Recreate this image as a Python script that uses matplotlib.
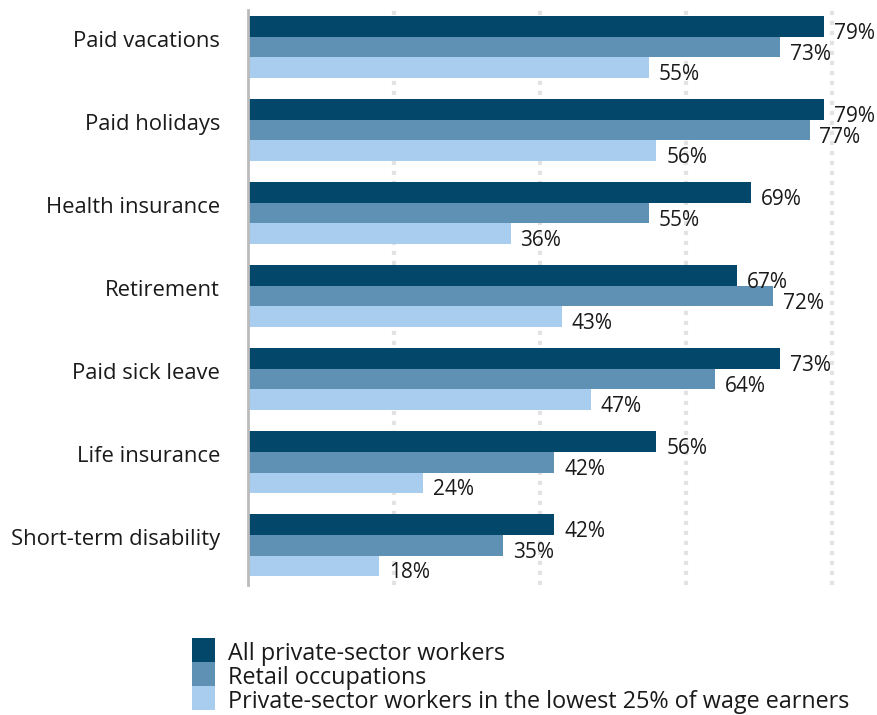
import numpy as np
import matplotlib.pyplot as plt
from matplotlib.patches import Rectangle

categories = ['Paid vacations', 'Paid holidays', 'Health insurance', 'Retirement',
              'Paid sick leave', 'Life insurance', 'Short-term disability']
all_private = [79, 79, 69, 67, 73, 56, 42]
retail = [73, 77, 55, 72, 64, 42, 35]
lowest_25 = [55, 56, 36, 43, 47, 24, 18]

series_names = ['All private-sector workers', 'Retail occupations',
                'Private-sector workers in the lowest 25% of wage earners']
colors = ['#03476a', '#5f91b5', '#a9cdee']

plt.rcParams['font.family'] = ['Open Sans', 'DejaVu Sans']
W, H = 877, 715

fig = plt.figure(figsize=(W / 100, H / 100), dpi=100)
ax = fig.add_axes([248 / W, 1 - 585 / H, (868 - 248) / W, 575 / H])

y = np.arange(len(categories))
h = 0.25
for k, vals in enumerate([all_private, retail, lowest_25]):
    pos = y - h + k * h
    ax.barh(pos, vals, height=h, color=colors[k], zorder=2)
    for p, v in zip(pos, vals):
        ax.annotate(f'{v}%', (v, p), xytext=(7, -9), textcoords='offset points',
                    va='baseline', ha='left', fontsize=15, color='#1a1a1a')

ax.set_xlim(0, 85)
ax.set_ylim(len(categories) - 1 + 0.48, -0.446)
ax.set_yticks(y)
ax.set_yticklabels(categories, fontsize=15.8, color='#1a1a1a', va='baseline')
ax.tick_params(axis='y', length=0, pad=20)
ax.set_xticks([20, 40, 60, 80])
ax.tick_params(axis='x', length=0, labelbottom=False)
ax.grid(axis='x', color='#e3e3e3', linestyle=(0, (1, 1.4)), linewidth=3, zorder=0)
for s in ['top', 'right', 'bottom']:
    ax.spines[s].set_visible(False)
ax.spines['left'].set_color('#bbbbbb')
ax.spines['left'].set_linewidth(2)

# legend drawn by hand so the rows sit tight like the original
top = 638
for i, (name, c) in enumerate(zip(series_names, colors)):
    y0 = top + 24 * i
    fig.add_artist(Rectangle((192 / W, 1 - (y0 + 24) / H), 23 / W, 24 / H,
                             transform=fig.transFigure, facecolor=c, edgecolor='none'))
    fig.text(228 / W, 1 - (y0 + 22) / H, name, fontsize=16.8, color='#1a1a1a',
             va='baseline', ha='left')

fig.savefig('out.png', dpi=100)
